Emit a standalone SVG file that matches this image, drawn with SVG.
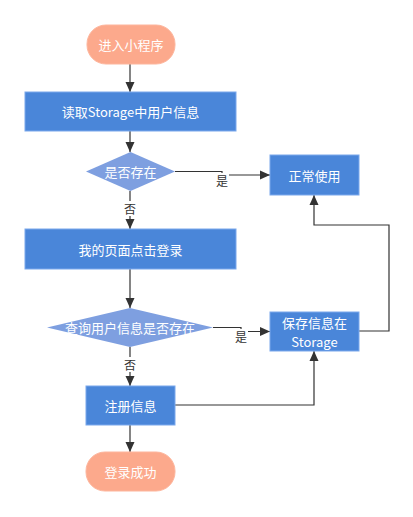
<svg xmlns="http://www.w3.org/2000/svg" width="413" height="517" viewBox="0 0 413 517">
<defs>
<marker id="arr" viewBox="0 0 10 10" refX="10" refY="5" markerWidth="10" markerHeight="10" markerUnits="userSpaceOnUse" orient="auto">
<path d="M0,0.5 L10,5 L0,9.5 Z" fill="#333"/>
</marker>
<style>
.term{fill:#FCA98C;stroke:#FDB59C;stroke-width:1}
.proc{fill:#4A86D9;stroke:#7AA8EC;stroke-width:1}
.dec{fill:#7E9FE0;stroke:none}
.t{font-family:"Microsoft YaHei","Noto Sans CJK SC",sans-serif;font-size:13px;fill:#fff;text-anchor:middle;dominant-baseline:central}
.lbl{font-family:"Microsoft YaHei","Noto Sans CJK SC",sans-serif;font-size:12px;fill:#333;text-anchor:middle;dominant-baseline:central}
.c{fill:none;stroke:#333;stroke-width:1.2}
.lbg{fill:#fff}
</style>
</defs>
<rect width="413" height="517" fill="#fff"/>
<g id="connectors">
<path class="c" d="M130,64 V92" marker-end="url(#arr)"/>
<path class="c" d="M130,131 V152" marker-end="url(#arr)"/>
<path class="c" d="M175,171.5 H222 V175 H270" marker-end="url(#arr)"/>
<path class="c" d="M130,191 V229" marker-end="url(#arr)"/>
<path class="c" d="M130,269 V308" marker-end="url(#arr)"/>
<path class="c" d="M213,327.5 H241 V331.5 H270" marker-end="url(#arr)"/>
<path class="c" d="M130,347 V386" marker-end="url(#arr)"/>
<path class="c" d="M130,425 V452" marker-end="url(#arr)"/>
<path class="c" d="M175,405 H314 V351" marker-end="url(#arr)"/>
<path class="c" d="M359,331 H389 V225 H314 V195" marker-end="url(#arr)"/>
<rect class="lbg" x="215" y="173" width="14" height="15"/>
<text class="lbl" x="222" y="180.5">是</text>
<rect class="lbg" x="123" y="201" width="14" height="15"/>
<text class="lbl" x="130" y="208.5">否</text>
<rect class="lbg" x="234" y="329" width="14" height="15"/>
<text class="lbl" x="241" y="336.5">是</text>
<rect class="lbg" x="123" y="357" width="14" height="15"/>
<text class="lbl" x="130" y="364.5">否</text>
</g>
<g id="start">
<rect class="term" x="87" y="25" width="88" height="39" rx="19" ry="19"/>
<text class="t" x="131" y="44.5">进入小程序</text>
</g>
<g id="read">
<rect class="proc" x="25" y="92" width="211" height="39"/>
<text class="t" x="130.5" y="111.5">读取Storage中用户信息</text>
</g>
<g id="exists">
<polygon class="dec" points="130.5,152 175,171.5 130.5,191 86,171.5"/>
<text class="t" x="130.5" y="171.5">是否存在</text>
</g>
<g id="normal">
<rect class="proc" x="270" y="155" width="89" height="40"/>
<text class="t" x="314.5" y="175">正常使用</text>
</g>
<g id="login">
<rect class="proc" x="25" y="229" width="211" height="40"/>
<text class="t" x="130.5" y="249">我的页面点击登录</text>
</g>
<g id="query">
<polygon class="dec" points="130,308 213,327.5 130,347 47,327.5"/>
<text class="t" x="130" y="327.5">查询用户信息是否存在</text>
</g>
<g id="save">
<rect class="proc" x="270" y="312" width="89" height="39"/>
<text class="t" x="314.5" y="322">保存信息在</text>
<text class="t" x="314.5" y="341">Storage</text>
</g>
<g id="register">
<rect class="proc" x="86" y="386" width="89" height="39"/>
<text class="t" x="130.5" y="405.5">注册信息</text>
</g>
<g id="end">
<rect class="term" x="86" y="452" width="89" height="39" rx="19" ry="19"/>
<text class="t" x="130.5" y="471.5">登录成功</text>
</g>
</svg>
